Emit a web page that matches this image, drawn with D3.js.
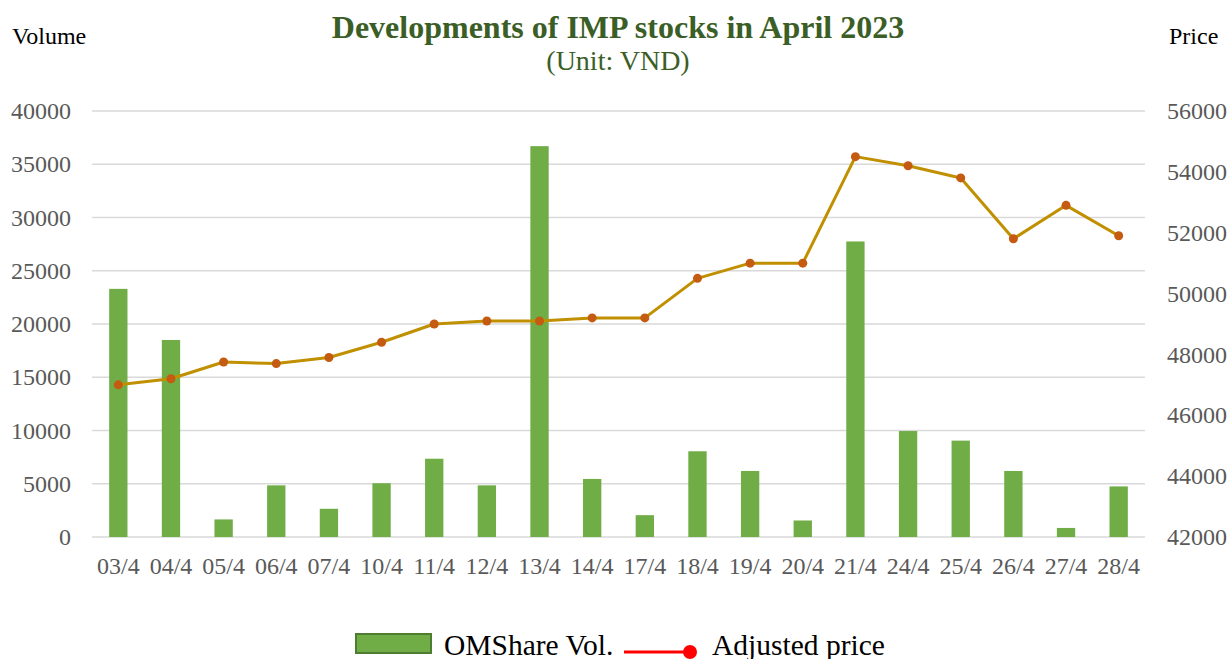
<!DOCTYPE html>
<html>
<head>
<meta charset="utf-8">
<script src="https://cdn.jsdelivr.net/npm/d3@7"></script>
<style>
  body { margin: 0; background: #fff; }
  text { font-family: "Liberation Serif", "Times New Roman", serif; }
</style>
</head>
<body>
<script>
// Chart data
const dates = ["03/4", "04/4", "05/4", "06/4", "07/4", "10/4", "11/4", "12/4", "13/4", "14/4",
  "17/4", "18/4", "19/4", "20/4", "21/4", "24/4", "25/4", "26/4", "27/4", "28/4"];
const volumes = [23300, 18500, 1650, 4850, 2650, 5050, 7350, 4850, 36700, 5450,
  2050, 8050, 6200, 1550, 27750, 9950, 9050, 6200, 850, 4750];
const prices = [47000, 47200, 47750, 47700, 47900, 48400, 49000, 49100, 49100, 49200,
  49200, 50500, 51000, 51000, 54500, 54200, 53800, 51800, 52900, 51900];
const volTicks = [0, 5000, 10000, 15000, 20000, 25000, 30000, 35000, 40000];
const priceTicks = [42000, 44000, 46000, 48000, 50000, 52000, 54000, 56000];

const W = 1229, H = 659;
const margin = { top: 111, bottom: 122, left: 92, right: 84 };
const width = W - margin.left - margin.right;
const height = H - margin.top - margin.bottom;

const svg = d3.select("body").append("svg")
  .attr("width", W)
  .attr("height", H);

const g = svg.append("g").attr("transform", `translate(${margin.left},${margin.top})`);

// Scales
const xscale = d3.scaleBand().domain(dates).range([0, width]).paddingInner(0.652).paddingOuter(0.326);
const yVol = d3.scaleLinear().domain([0, 40000]).range([height, 0]);
const yPrice = d3.scaleLinear().domain([42000, 56000]).range([height, 0]);

// Gridlines
g.append("g")
  .selectAll("line")
  .data(volTicks)
  .join("line")
  .attr("x1", 0)
  .attr("x2", width)
  .attr("y1", d => yVol(d))
  .attr("y2", d => yVol(d))
  .attr("stroke", "#d9d9d9")
  .attr("stroke-width", 1.5);

// Axes: labels only
const tickStyle = sel => {
  sel.select(".domain").remove();
  sel.selectAll(".tick line").remove();
  sel.selectAll(".tick text")
    .attr("fill", "#595959")
    .style("font-size", "24px");
};

g.append("g")
  .call(d3.axisLeft(yVol).tickValues(volTicks).tickFormat(d3.format("d")).tickSize(0).tickPadding(21))
  .call(tickStyle);

g.append("g")
  .attr("transform", `translate(${width},0)`)
  .call(d3.axisRight(yPrice).tickValues(priceTicks).tickFormat(d3.format("d")).tickSize(0).tickPadding(22))
  .call(tickStyle);

g.append("g")
  .attr("transform", `translate(0,${height})`)
  .call(d3.axisBottom(xscale).tickSize(0).tickPadding(20))
  .call(tickStyle);

// Bars
g.append("g")
  .selectAll("rect")
  .data(dates)
  .join("rect")
  .attr("x", d => xscale(d))
  .attr("width", xscale.bandwidth())
  .attr("y", (d, i) => yVol(volumes[i]))
  .attr("height", (d, i) => height - yVol(volumes[i]))
  .attr("fill", "#70ad47");

// Price line
const cx = d => xscale(d) + xscale.bandwidth() / 2;
const line = d3.line()
  .x(d => cx(d))
  .y((d, i) => yPrice(prices[i]));

g.append("path")
  .datum(dates)
  .attr("d", line)
  .attr("fill", "none")
  .attr("stroke", "#c09000")
  .attr("stroke-width", 3)
  .attr("stroke-linejoin", "round");

g.append("g")
  .selectAll("circle")
  .data(dates)
  .join("circle")
  .attr("cx", d => cx(d))
  .attr("cy", (d, i) => yPrice(prices[i]))
  .attr("r", 4.5)
  .attr("fill", "#c55a11");

// Titles
svg.append("text")
  .attr("x", 618).attr("y", 38)
  .attr("text-anchor", "middle")
  .attr("fill", "#3b5e26")
  .style("font-size", "32px")
  .style("font-weight", "bold")
  .text("Developments of IMP stocks in April 2023");

svg.append("text")
  .attr("x", 618).attr("y", 70)
  .attr("text-anchor", "middle")
  .attr("fill", "#3b5e26")
  .style("font-size", "28px")
  .text("(Unit: VND)");

svg.append("text")
  .attr("x", 12).attr("y", 44)
  .attr("fill", "#000")
  .style("font-size", "24px")
  .text("Volume");

svg.append("text")
  .attr("x", 1169).attr("y", 44)
  .attr("fill", "#000")
  .style("font-size", "24px")
  .text("Price");

// Legend
const legend = svg.append("g");
legend.append("rect")
  .attr("x", 356).attr("y", 634)
  .attr("width", 75).attr("height", 19)
  .attr("fill", "#70ad47")
  .attr("stroke", "#4e7d31")
  .attr("stroke-width", 2);
legend.append("text")
  .attr("x", 444).attr("y", 655)
  .attr("fill", "#000")
  .style("font-size", "29.5px")
  .text("OMShare Vol.");
legend.append("line")
  .attr("x1", 624).attr("x2", 690)
  .attr("y1", 652).attr("y2", 652)
  .attr("stroke", "#ff0000")
  .attr("stroke-width", 3);
legend.append("circle")
  .attr("cx", 690).attr("cy", 652)
  .attr("r", 7)
  .attr("fill", "#ff0000");
legend.append("text")
  .attr("x", 712).attr("y", 655)
  .attr("fill", "#000")
  .style("font-size", "29.5px")
  .text("Adjusted price");
</script>
</body>
</html>
